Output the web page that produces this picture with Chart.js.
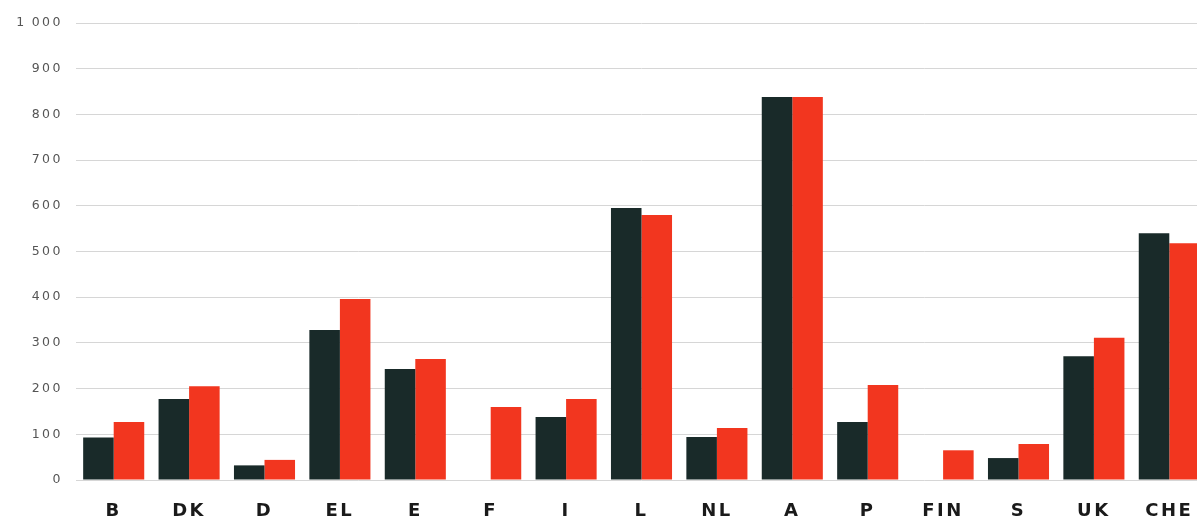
<!DOCTYPE html>
<html>
<head>
<meta charset="utf-8">
<script src="https://cdn.jsdelivr.net/npm/chart.js@4.4.1/dist/chart.umd.min.js"></script>
<style>
  html, body { margin: 0; padding: 0; background: #fff; overflow: hidden; }
  #wrap { position: absolute; left: 0; top: 0; width: 1207px; height: 522px; }
</style>
</head>
<body>
<div id="wrap"><canvas id="barChart" width="1207" height="522"></canvas></div>
<script>
const countries = ['B', 'DK', 'D', 'EL', 'E', 'F', 'I', 'L', 'NL', 'A', 'P', 'FIN', 'S', 'UK', 'CHE'];
const darkValues = [93, 177, 32, 328, 243, null, 138, 595, 94, 838, 127, null, 48, 271, 540];
const redValues = [127, 205, 44, 396, 265, 160, 177, 580, 114, 838, 208, 65, 79, 311, 518];
const yTicks = [0, 100, 200, 300, 400, 500, 600, 700, 800, 900, 1000];

// the original lettering is wide, so space the glyphs out a bit
const spacingPlugin = {
  id: 'spacing',
  beforeUpdate(chart) { chart.ctx.letterSpacing = '2.5px'; },
  beforeDraw(chart) { chart.ctx.letterSpacing = '2.5px'; }
};

document.addEventListener('DOMContentLoaded', () => {
  const ctx = document.getElementById('barChart').getContext('2d');

  new Chart(ctx, {
    type: 'bar',
    data: {
      labels: countries,
      datasets: [
        {
          label: 'dark',
          data: darkValues,
          backgroundColor: '#192a29',
          barPercentage: 1,
          categoryPercentage: 0.81
        },
        {
          label: 'red',
          data: redValues,
          backgroundColor: '#f2361f',
          barPercentage: 1,
          categoryPercentage: 0.81
        }
      ]
    },
    options: {
      responsive: false,
      animation: false,
      layout: {
        padding: { top: 23, left: 0, right: 0, bottom: 0 }
      },
      plugins: {
        legend: { display: false },
        tooltip: { enabled: false }
      },
      scales: {
        x: {
          grid: { display: false, drawTicks: false },
          border: { display: false },
          ticks: {
            padding: 21,
            maxRotation: 0,
            autoSkip: false,
            color: '#1a1a1a',
            font: { family: 'DejaVu Sans', size: 18, weight: 'bold' }
          },
          afterFit: scale => {
            scale.height = 42;
            // the last bars run off the right edge in the original
            scale.paddingLeft = 0;
            scale.paddingRight = 0;
          }
        },
        y: {
          min: 0,
          max: 1000,
          afterBuildTicks: scale => {
            scale.ticks = yTicks.map(v => ({ value: v }));
          },
          grid: { color: '#d6d6d6', lineWidth: 1, drawTicks: false },
          border: { display: false },
          ticks: {
            padding: 13,
            color: '#555',
            font: { family: 'DejaVu Sans', size: 12.5 },
            callback: v => v >= 1000 ? String(v).replace(/(\d)(\d{3})$/, '$1\u2009$2') : String(v)
          },
          afterFit: scale => { scale.width = 76; }
        }
      }
    },
    plugins: [spacingPlugin]
  });
});
</script>
</body>
</html>
